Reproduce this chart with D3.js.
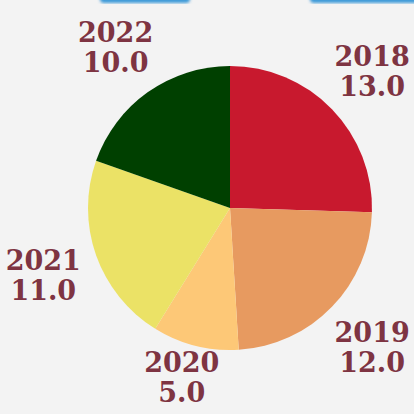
<!DOCTYPE html>
<html>
<head>
<meta charset="utf-8">
<script src="https://d3js.org/d3.v7.min.js"></script>
<style>
  html, body { margin: 0; padding: 0; background: #f3f3f3; }
  svg { display: block; }
</style>
</head>
<body>
<svg id="chart" width="414" height="414"></svg>
<script>
// data
var years  = ["2018", "2019", "2020", "2021", "2022"];
var values = [13, 12, 5, 11, 10];
var colors = ["#c8192e", "#e79a60", "#fdc877", "#ebe266", "#004000"];

var width = 414, height = 414,
    cx = 230, cy = 208,
    radius = 142,
    labelR = 198,
    fontSize = 27,
    lineH = 30;

var svg = d3.select("#chart");

// blurred blue strip at the very top
var defs = svg.append("defs");
defs.append("filter").attr("id", "blur")
    .append("feGaussianBlur").attr("stdDeviation", 1.5);
svg.append("g").attr("filter", "url(#blur)")
    .selectAll("rect")
    .data([[100, 190], [310, 420]])
    .enter().append("rect")
    .attr("x", function(d) { return d[0]; })
    .attr("y", -6)
    .attr("width", function(d) { return d[1] - d[0]; })
    .attr("height", 9)
    .attr("rx", 4)
    .style("fill", "#3d9ad8");

var data = years.map(function(y, i) { return {year: y, value: values[i]}; });

var color = d3.scaleOrdinal().domain(years).range(colors);

var pie = d3.pie().sort(null).value(function(d) { return d.value; });
var arc = d3.arc().innerRadius(0).outerRadius(radius);
var labelArc = d3.arc().innerRadius(labelR).outerRadius(labelR);

var g = svg.append("g").attr("transform", "translate(" + cx + "," + cy + ")");

var slices = g.selectAll(".arc")
    .data(pie(data))
    .enter().append("g")
    .attr("class", "arc");

slices.append("path")
    .attr("d", arc)
    .style("fill", function(d) { return color(d.data.year); });

// keep each label block inside the canvas
function labelPos(d) {
    var c = labelArc.centroid(d);
    var maxY = height - 12 - cy - (lineH - 4);
    if (c[1] > maxY) c[1] = maxY;
    return c;
}

var labels = slices.append("text")
    .attr("transform", function(d) { return "translate(" + labelPos(d) + ")"; })
    .attr("text-anchor", "middle")
    .style("font-family", "'DejaVu Serif', serif")
    .style("font-weight", "bold")
    .style("font-size", fontSize + "px")
    .style("fill", "#7e3442");

labels.append("tspan")
    .attr("x", 0).attr("y", -4)
    .text(function(d) { return d.data.year; });
labels.append("tspan")
    .attr("x", 0).attr("y", lineH - 4)
    .text(function(d) { return d.data.value.toFixed(1); });
</script>
</body>
</html>
